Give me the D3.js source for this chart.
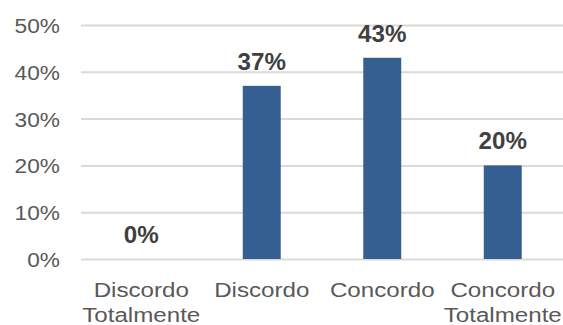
<!DOCTYPE html>
<html>
<head>
<meta charset="utf-8">
<script src="https://cdn.jsdelivr.net/npm/d3@7"></script>
<style>
  html, body { margin: 0; padding: 0; background: #fff; }
  svg { display: block; font-family: "Liberation Sans", Arial, sans-serif; }
</style>
</head>
<body>
<div id="vis"></div>
<script>
// Respuestas de la escala Likert
const categorias = [["Discordo", "Totalmente"], ["Discordo"], ["Concordo"], ["Concordo", "Totalmente"]];
const valores = [0, 0.37, 0.43, 0.20];
const ticks = [0, 0.1, 0.2, 0.3, 0.4, 0.5];

const width = 563, height = 325;
const margin = { top: 25, right: 0, bottom: 66, left: 81 };
const sx = 1.12; // el texto del original es algo más ancho

const svg = d3.select("#vis").append("svg")
  .attr("width", width).attr("height", height);

const x = d3.scaleBand()
  .domain(d3.range(valores.length))
  .range([margin.left, width - margin.right])
  .paddingInner(0.685).paddingOuter(0.3425);

const y = d3.scaleLinear()
  .domain([0, 0.5])
  .range([height - margin.bottom, margin.top]);

const fmt = d3.format(".0%");

// grid + eje y
const yAxis = svg.append("g")
  .attr("transform", `translate(${margin.left},0)`)
  .call(d3.axisLeft(y).tickValues(ticks).tickFormat(fmt)
    .tickSize(-(width - margin.left - margin.right)).tickPadding(0));
yAxis.select(".domain").remove();
yAxis.selectAll(".tick line").attr("stroke", "#d9d9d9").attr("stroke-width", 2);
yAxis.selectAll(".tick text")
  .attr("x", null)
  .attr("transform", `translate(-21,0) scale(${sx - 0.04},1)`)
  .attr("fill", "#595959").attr("font-size", 21).attr("dy", "0.36em");

// barras
svg.append("g").selectAll("rect").data(valores).join("rect")
  .attr("x", (d, i) => x(i))
  .attr("width", x.bandwidth())
  .attr("y", d => y(d))
  .attr("height", d => y(0) - y(d))
  .attr("fill", "#365F91");

// etiquetas de datos
svg.append("g").selectAll("text").data(valores).join("text")
  .attr("transform", (d, i) => `translate(${x(i) + x.bandwidth() / 2},${y(d) - 16}) scale(1.05,1)`)
  .attr("text-anchor", "middle")
  .attr("font-size", 23).attr("font-weight", "bold")
  .attr("fill", "#404040")
  .text(d => fmt(d));

// categorias
const cat = svg.append("g").selectAll("text").data(categorias).join("text")
  .attr("transform", (d, i) => `translate(${x(i) + x.bandwidth() / 2},297) scale(${sx + 0.03},1)`)
  .attr("text-anchor", "middle")
  .attr("font-size", 21).attr("fill", "#595959");
cat.selectAll("tspan").data(d => d).join("tspan")
  .attr("x", 0)
  .attr("dy", (d, i) => i ? 25 : 0)
  .text(d => d);
</script>
</body>
</html>
